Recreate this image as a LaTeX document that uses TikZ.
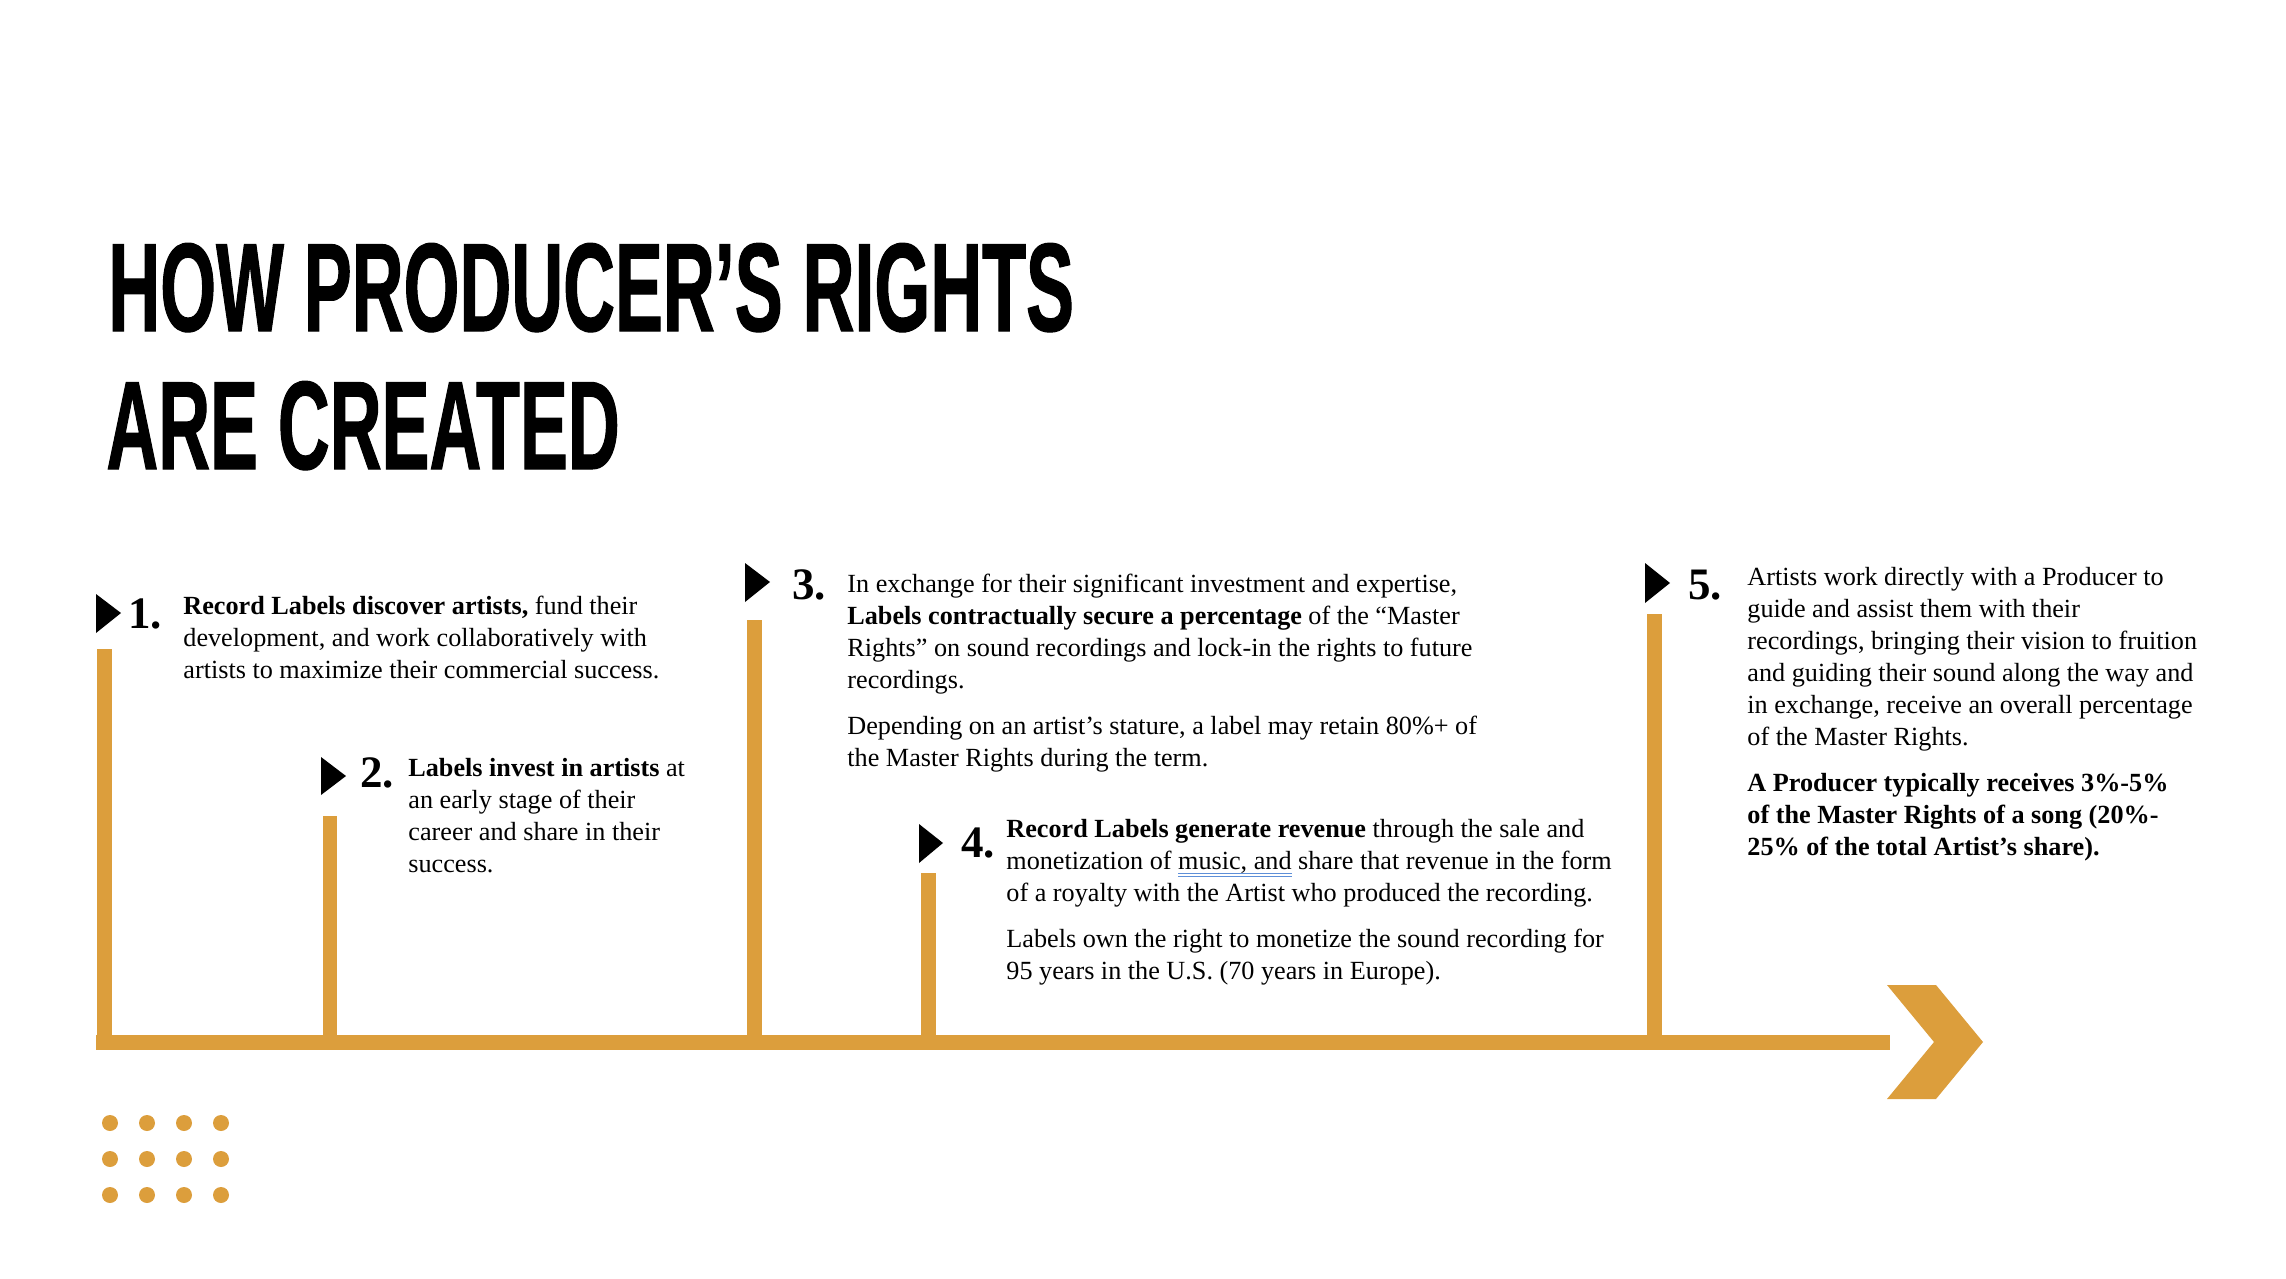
\documentclass[tikz,border=0pt]{standalone}
\usepackage{fontspec}
\setmainfont{Liberation Serif}
\newfontfamily\titlefont[FakeStretch=0.57,FakeBold=0.8]{Liberation Sans}
\usepackage{tikz}
\definecolor{amber}{HTML}{DC9E3C}
\definecolor{ulblue}{HTML}{5E8FD8}
\newcommand{\gramul}[1]{\setbox0=\hbox{#1}\rlap{\color{ulblue}\rule[-2.3pt]{\wd0}{0.55pt}}\rlap{\color{ulblue}\rule[-4.2pt]{\wd0}{0.55pt}}\box0{}}
\newcommand{\steptext}[1]{\begin{tabular}[t]{@{}l@{}}#1\end{tabular}}

\begin{document}
\begin{tikzpicture}[x=0.5pt, y=-0.5pt, every node/.style={inner sep=0pt},
	txt/.style={anchor=base west, font=\fontsize{13.1}{16}\selectfont},
	num/.style={anchor=base west, font=\fontsize{22.5}{22.5}\selectfont\bfseries},
	ttl/.style={anchor=base west, font=\fontsize{63}{63}\selectfont\titlefont\bfseries}]
			\useasboundingbox (0,0) rectangle (2286,1279);
			% title
			\node[ttl](T1) at (108,331) {HOW PRODUCER’S RIGHTS};
			\node[ttl](T2) at (106,469) {ARE CREATED};
			% timeline
			\fill[amber] (97,649) rectangle (112,1042);
			\fill[amber] (323,816) rectangle (337,1042);
			\fill[amber] (747,620) rectangle (762,1042);
			\fill[amber] (921,873) rectangle (936,1042);
			\fill[amber] (1647,614) rectangle (1662,1042);
			\fill[amber] (96,1035) rectangle (1890,1050);
			\fill[amber] (1887,985) -- (1936,985) -- (1983,1042) -- (1936,1099) -- (1887,1099) -- (1934,1042) -- cycle;
			\foreach \i in {0,...,3}
				\foreach \j in {0,1,2}
					\fill[amber] (110+37*\i, 1123+36*\j) circle[radius=4pt];
			% markers
			\fill (96,594) -- (121,613) -- (96,633) -- cycle;
			\fill (321,757) -- (346,776) -- (321,795) -- cycle;
			\fill (745,563) -- (770,582) -- (745,602) -- cycle;
			\fill (919,824) -- (943,843) -- (919,863) -- cycle;
			\fill (1645,563) -- (1670,583) -- (1645,603) -- cycle;
			% steps
			\node[num](N1) at (128,628) {1.};
			\node[num](N2) at (360,787) {2.};
			\node[num](N3) at (792,599) {3.};
			\node[num](N4) at (961,857) {4.};
			\node[num](N5) at (1688,599) {5.};
			\node[txt](S1) at (183,614) {\steptext{\textbf{Record Labels discover artists,} fund their\\ development, and work collaboratively with\\ artists to maximize their commercial success.}};
			\node[txt](S2) at (408,776) {\steptext{\textbf{Labels invest in artists} at\\ an early stage of their\\ career and share in their\\ success.}};
			\node[txt](S3) at (847,592) {\steptext{In exchange for their significant investment and expertise,\\ \textbf{Labels contractually secure a percentage} of the “Master\\ Rights” on sound recordings and lock-in the rights to future\\ recordings.\\[7pt] Depending on an artist’s stature, a label may retain 80\%+ of\\ the Master Rights during the term.}};
			\node[txt](S4) at (1006,837) {\steptext{\textbf{Record Labels generate revenue} through the sale and\\ monetization of \gramul{music, and} share that revenue in the form\\ of a royalty with the Artist who produced the recording.\\[7pt] Labels own the right to monetize the sound recording for\\ 95 years in the U.S. (70 years in Europe).}};
			\node[txt](S5) at (1747,585) {\steptext{Artists work directly with a Producer to\\ guide and assist them with their\\ recordings, bringing their vision to fruition\\ and guiding their sound along the way and\\ in exchange, receive an overall percentage\\ of the Master Rights.\\[7pt] \textbf{A Producer typically receives 3\%-5\%}\\ \textbf{of the Master Rights of a song (20\%-}\\ \textbf{25\% of the total Artist’s share).}}};
		\end{tikzpicture}
\end{document}
